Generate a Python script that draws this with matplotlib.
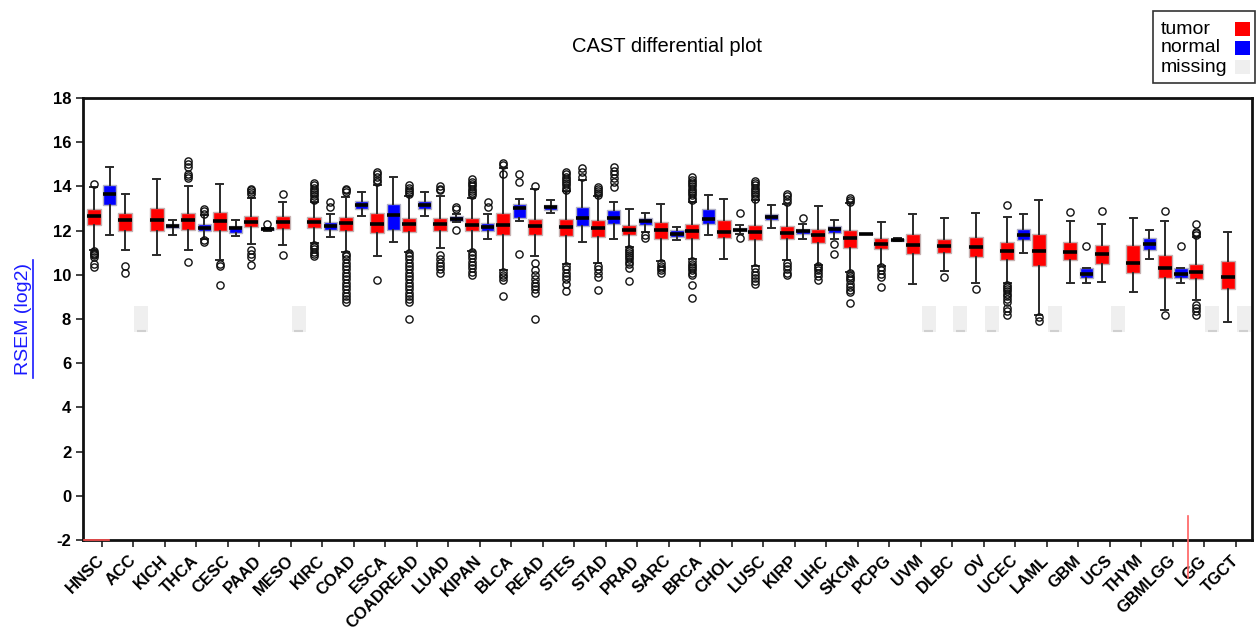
import matplotlib
matplotlib.use("Agg")
import matplotlib.pyplot as plt
from matplotlib.patches import Rectangle
from matplotlib.lines import Line2D
import numpy as np

plt.rcParams['font.family'] = ['Liberation Sans', 'DejaVu Sans']
plt.rcParams['axes.unicode_minus'] = False

# categories
cancers = ['HNSC', 'ACC', 'KICH', 'THCA', 'CESC', 'PAAD', 'MESO', 'KIRC', 'COAD', 'ESCA',
           'COADREAD', 'LUAD', 'KIPAN', 'BLCA', 'READ', 'STES', 'STAD', 'PRAD', 'SARC', 'BRCA',
           'CHOL', 'LUSC', 'KIRP', 'LIHC', 'SKCM', 'PCPG', 'UVM', 'DLBC', 'OV', 'UCEC',
           'LAML', 'GBM', 'UCS', 'THYM', 'GBMLGG', 'LGG', 'TGCT']

# tumor box stats
t_med = [12.66, 12.47, 12.47, 12.47, 12.45, 12.38, 12.38, 12.38, 12.35, 12.32,
         12.32, 12.32, 12.24, 12.24, 12.21, 12.17, 12.14, 12.05, 12.02, 12.00,
         11.94, 11.94, 11.91, 11.82, 11.65, 11.41, 11.37, 11.32, 11.26, 11.10,
         11.07, 11.04, 10.96, 10.54, 10.33, 10.12, 9.91]
t_q1 = [12.24, 11.97, 11.98, 12.05, 11.98, 12.17, 12.09, 12.14, 11.97, 11.89,
        11.92, 11.98, 11.97, 11.82, 11.79, 11.76, 11.71, 11.82, 11.64, 11.62,
        11.68, 11.56, 11.62, 11.44, 11.23, 11.16, 10.93, 10.99, 10.81, 10.69,
        10.39, 10.69, 10.48, 10.09, 9.87, 9.80, 9.38]
t_q3 = [12.99, 12.80, 13.04, 12.80, 12.84, 12.65, 12.65, 12.62, 12.62, 12.80,
        12.56, 12.59, 12.57, 12.81, 12.54, 12.54, 12.47, 12.27, 12.39, 12.32,
        12.50, 12.27, 12.20, 12.09, 12.02, 11.68, 11.83, 11.64, 11.71, 11.49,
        11.83, 11.49, 11.34, 11.34, 10.90, 10.51, 10.63]
t_lo = [11.14, 11.14, 10.92, 11.11, 10.66, 11.38, 11.34, 11.45, 11.04, 10.84,
        11.05, 11.20, 11.10, 10.20, 10.86, 10.50, 10.55, 11.25, 10.63, 10.70,
        10.71, 10.40, 10.65, 10.45, 10.15, 10.40, 9.58, 10.18, 9.62, 9.62,
        8.20, 9.65, 9.68, 9.24, 8.42, 8.86, 7.88]
t_hi = [13.97, 13.65, 14.32, 14.00, 14.12, 13.49, 13.29, 13.30, 13.52, 14.08,
        13.55, 13.55, 13.50, 14.85, 13.90, 13.80, 13.55, 12.99, 13.19, 13.30,
        13.44, 13.37, 13.20, 13.10, 13.25, 12.38, 12.77, 12.56, 12.80, 12.63,
        13.37, 12.44, 12.32, 12.59, 12.44, 11.70, 11.94]
t_out = [
    [14.12, 11.10, 11.00, 10.95, 10.90, 10.80, 10.50, 10.35],
    [10.39, 10.09],
    [],
    [15.14, 15.02, 14.90, 14.57, 14.48, 14.40, 10.59],
    [10.48, 10.39, 9.53],
    [13.90, 13.82, 13.74, 13.67, 11.11, 10.96, 10.81, 10.44],
    [13.64, 10.89],
    [14.15, 14.05, 13.95, 13.85, 13.75, 13.65, 13.55, 13.45, 13.37,
     11.35, 11.25, 11.15, 11.05, 10.95, 10.85],
    [13.90, 13.82, 13.75, 10.96, 10.85, 10.70, 10.55, 10.40, 10.25, 10.10, 9.95,
     9.80, 9.65, 9.50, 9.35, 9.20, 9.05, 8.90, 8.78],
    [14.65, 14.55, 14.45, 14.30, 14.20, 9.76],
    [14.05, 13.95, 13.85, 13.75, 13.65, 10.98, 10.85, 10.70, 10.55, 10.40, 10.25,
     10.10, 9.95, 9.80, 9.65, 9.50, 9.35, 9.20, 9.05, 8.90, 8.75, 8.00],
    [14.02, 13.90, 13.82, 10.89, 10.70, 10.55, 10.40, 10.25, 10.09],
    [14.35, 14.20, 14.10, 14.00, 13.90, 13.80, 13.70, 13.60,
     11.04, 10.90, 10.75, 10.60, 10.45, 10.30, 10.15, 9.98],
    [15.05, 14.95, 14.55, 10.14, 10.00, 9.90, 9.76, 9.04],
    [14.00, 10.54, 10.20, 10.00, 9.80, 9.65, 9.50, 9.35, 9.16, 8.00],
    [14.65, 14.55, 14.45, 14.35, 14.25, 14.15, 14.05, 13.95, 13.85,
     10.41, 10.25, 10.10, 9.95, 9.80, 9.60, 9.29],
    [13.97, 13.88, 13.80, 13.70, 13.60, 10.41, 10.25, 10.10, 9.90, 9.32],
    [11.19, 11.10, 11.00, 10.90, 10.80, 10.70, 10.60, 10.50, 10.29, 9.73],
    [10.54, 10.40, 10.30, 10.20, 10.09],
    [14.42, 14.30, 14.20, 14.10, 14.00, 13.90, 13.80, 13.70, 13.60, 13.50, 13.37,
     10.63, 10.50, 10.40, 10.30, 10.20, 10.10, 9.98, 9.53, 8.93],
    [],
    [14.27, 14.15, 14.05, 13.95, 13.85, 13.75, 13.65, 13.55, 13.44,
     10.29, 10.15, 10.00, 9.85, 9.70, 9.60],
    [13.67, 13.55, 13.45, 13.30, 10.54, 10.40, 10.25, 10.10, 9.98],
    [10.41, 10.30, 10.20, 10.10, 9.95, 9.76],
    [13.49, 13.40, 13.29, 10.09, 9.95, 9.85, 9.75, 9.60, 9.45, 9.30, 9.24, 8.71],
    [10.35, 10.20, 10.05, 9.90, 9.45],
    [],
    [9.90],
    [9.35],
    [13.14, 9.56, 9.45, 9.35, 9.25, 9.15, 9.05, 8.90, 8.75, 8.50, 8.35, 8.20],
    [8.10, 7.90],
    [12.84],
    [12.87],
    [],
    [12.87, 8.20],
    [12.32, 11.95, 11.88, 11.82, 8.65, 8.50, 8.35, 8.20],
    [],
]

# normal box stats, None = no normal samples (missing)
n_med = [13.64, None, 12.23, 12.12, 12.12, 12.06, None, 12.21, 13.14, 12.72,
         13.14, 12.54, 12.17, 13.02, 13.07, 12.56, 12.56, 12.44, 11.87, 12.51,
         12.05, 12.62, 11.97, 12.09, 11.87, 11.59, None, None, None, 11.82,
         None, 10.06, None, 11.40, 10.06, None, None]
n_q1 = [13.17, None, 12.12, 11.98, 11.91, 12.03, None, 12.02, 12.99, 12.02,
        12.96, 12.44, 11.97, 12.57, 12.92, 12.20, 12.32, 12.27, 11.71, 12.32,
        11.97, 12.47, 11.83, 11.91, 11.87, 11.55, None, None, None, 11.56,
        None, 9.87, None, 11.13, 9.87, None, None]
n_q3 = [14.08, None, 12.32, 12.29, 12.20, 12.10, None, 12.39, 13.34, 13.19,
        13.34, 12.65, 12.35, 13.19, 13.17, 13.07, 12.92, 12.59, 12.02, 12.99,
        12.12, 12.77, 12.09, 12.20, 11.87, 11.63, None, None, None, 12.06,
        None, 10.33, None, 11.68, 10.33, None, None]
n_lo = [11.79, None, 11.79, 11.64, 11.76, 12.00, None, 11.71, 12.65, 11.49,
        12.65, 12.38, 11.64, 12.42, 12.81, 11.49, 11.62, 11.95, 11.59, 11.82,
        11.85, 12.14, 11.62, 11.64, 11.87, 11.52, None, None, None, 10.99,
        None, 9.65, None, 10.74, 9.65, None, None]
n_hi = [14.90, None, 12.50, 12.69, 12.47, 12.12, None, 12.74, 13.74, 14.45,
        13.74, 12.77, 12.74, 13.44, 13.40, 14.30, 13.29, 12.81, 12.17, 13.60,
        12.24, 13.14, 12.29, 12.47, 11.87, 11.66, None, None, None, 12.74,
        None, 10.33, None, 12.02, 10.33, None, None]
n_out = [[], [], [], [13.00, 12.89, 12.77, 11.60, 11.50], [], [12.30], [],
         [13.29, 13.07], [], [], [], [13.07, 13.00, 12.05], [13.29, 13.07],
         [14.57, 14.20, 10.93], [], [14.84, 14.65, 14.45],
         [14.87, 14.70, 14.55, 14.40, 14.20, 13.97], [11.79, 11.67], [], [],
         [12.81, 11.67], [], [12.59], [11.38, 10.96], [], [], [], [], [], [],
         [], [11.31], [], [], [11.31], [], []]

# placeholder band for missing normals
missing_lo = 7.4
missing_hi = 8.6

# stray red marks in the original screenshot
red_h_x = [-0.57, 0.22]
red_v_x = 34.48
red_v_y = [-0.9, -3.7]

legend_labels = ['tumor', 'normal', 'missing']
legend_colors = ['#ff0000', '#0000ff', '#efefef']

x = np.arange(len(cancers))
off = 0.254

tumor_stats = [dict(med=t_med[i], q1=t_q1[i], q3=t_q3[i], whislo=t_lo[i],
                    whishi=t_hi[i], fliers=t_out[i]) for i in range(len(cancers))]
n_idx = [i for i in range(len(cancers)) if n_med[i] is not None]
miss_idx = [i for i in range(len(cancers)) if n_med[i] is None]
normal_stats = [dict(med=n_med[i], q1=n_q1[i], q3=n_q3[i], whislo=n_lo[i],
                     whishi=n_hi[i], fliers=n_out[i]) for i in n_idx]

W, H = 1257, 633
fig = plt.figure(figsize=(W / 100, H / 100), dpi=100)
ax = fig.add_axes([0.066, 0.147, 0.930, 0.698])

common = dict(patch_artist=True, manage_ticks=False,
              medianprops=dict(color='black', linewidth=2.6),
              whiskerprops=dict(color='#2a2a2a', linewidth=1.4),
              capprops=dict(color='#2a2a2a', linewidth=1.4),
              flierprops=dict(marker='o', markerfacecolor='none', markeredgecolor='#111111',
                              markersize=5.2, markeredgewidth=1.0))

ax.bxp(tumor_stats, positions=x - off, widths=0.44, capwidths=0.22,
       boxprops=dict(facecolor='#ff0000', edgecolor='#c4b0b0', linewidth=1.0), **common)
ax.bxp(normal_stats, positions=x[n_idx] + off, widths=0.42, capwidths=0.22,
       boxprops=dict(facecolor='#0000ff', edgecolor='#b0b0c4', linewidth=1.0), **common)

ax.bar(x[miss_idx] + off, missing_hi - missing_lo, bottom=missing_lo, width=0.44,
       color='#efefef', zorder=1)
ax.hlines([missing_lo + 0.05] * len(miss_idx), x[miss_idx] + off - 0.14,
          x[miss_idx] + off + 0.14, color='#d0d0d0', linewidth=1.5)

ax.plot(red_h_x, [-2, -2], color='#ff5050', linewidth=1.2, clip_on=False, zorder=5)
ax.plot([red_v_x, red_v_x], red_v_y, color='#ff6060', linewidth=1.2, clip_on=False, zorder=5)

ax.set_xlim(-0.6, 36.51)
ax.set_ylim(-2, 18)
ax.set_yticks(np.arange(-2, 19, 2))
ax.set_xticks(x)
ax.set_xticklabels(cancers, rotation=45, ha='right', va='center', rotation_mode='anchor',
                   fontweight='bold', fontsize=12)
for lab in ax.get_yticklabels():
    lab.set_fontweight('bold')
    lab.set_fontsize(12)
ax.tick_params(direction='out', length=5, width=1.2, color='#222222')
ax.tick_params(axis='x', pad=8)
for s in ax.spines.values():
    s.set_linewidth(2)
    s.set_color('#111111')

fig.text(0.531, 1 - 46 / H, 'CAST differential plot', ha='center', va='center', fontsize=14.5)

fig.text(23 / W, 1 - 319 / H, 'RSEM (log2)', rotation=90, ha='center', va='center',
         fontsize=14, color='#1a1aff')
fig.add_artist(Line2D([33 / W, 33 / W], [1 - 260 / H, 1 - 378 / H],
                      color='#1a1aff', linewidth=1.2))

# legend box: labels left-aligned, colour squares on the right
fig.add_artist(Rectangle((1153 / W, 1 - 83 / H), 102 / W, 72 / H, transform=fig.transFigure,
                         facecolor='white', edgecolor='#333333', linewidth=1.2))
for k, (lab, col) in enumerate(zip(legend_labels, legend_colors)):
    yc = 29 + 19 * k
    fig.text(1161 / W, 1 - yc / H, lab, ha='left', va='center', fontsize=14)
    fig.add_artist(Rectangle((1235 / W, 1 - (yc + 7) / H), 15 / W, 14 / H,
                             transform=fig.transFigure, facecolor=col, edgecolor='none'))

fig.savefig('out.png', dpi=100)
